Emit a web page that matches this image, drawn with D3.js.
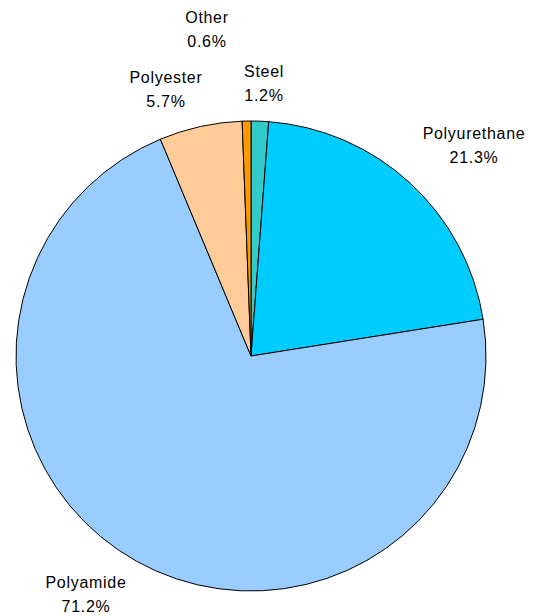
<!DOCTYPE html>
<html><head><meta charset="utf-8">
<script src="https://cdn.jsdelivr.net/npm/d3@7"></script>
<style>body{margin:0;background:#fff}svg{display:block}</style>
</head><body>
<script>
const categories = ["Steel","Polyurethane","Polyamide","Polyester","Other"];
const values = [1.2, 21.3, 71.2, 5.7, 0.6];
const colors = ["#33CCCC","#00CCFF","#99CCFF","#FFCC99","#FF9900"];
const labelText = ["1.2%","21.3%","71.2%","5.7%","0.6%"];
const labelPos = [[264,77],[474,139],[86,588],[166,83],[207,23]];

const W=542,H=616, cx=251, cy=356, r=235;
const svg=d3.select("body").append("svg").attr("width",W).attr("height",H);
const data=categories.map((c,i)=>({c,v:values[i],col:colors[i],lab:labelText[i],pos:labelPos[i]}));
const pie=d3.pie().value(d=>d.v).sort(null);
const arc=d3.arc().innerRadius(0).outerRadius(r);
const g=svg.append("g").attr("transform",`translate(${cx},${cy})`);
g.selectAll("path").data(pie(data)).enter().append("path")
 .attr("d",arc).attr("fill",d=>d.data.col).attr("stroke","#000").attr("stroke-width",1);
const t=svg.selectAll("text.lab").data(data).enter().append("text")
 .attr("class","lab").attr("text-anchor","middle")
 .attr("font-family","Liberation Sans, Arial, sans-serif").attr("font-size",16)
 .attr("letter-spacing",0.7).attr("fill","#000");
t.append("tspan").attr("x",d=>d.pos[0]).attr("y",d=>d.pos[1]).text(d=>d.c);
t.append("tspan").attr("x",d=>d.pos[0]).attr("y",d=>d.pos[1]+24).text(d=>d.lab);
</script>
</body></html>
